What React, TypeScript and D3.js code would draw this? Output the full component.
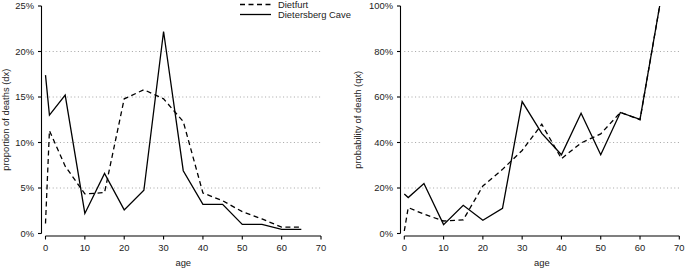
import React from "react";
import * as d3 from "d3";

const ages = [0, 1, 5, 10, 15, 20, 25, 30, 35, 40, 45, 50, 55, 60, 65];
const dietfurtDx = [1.1, 11.3, 7.4, 4.35, 4.5, 14.8, 15.8, 14.8, 12.3, 4.45, 3.6, 2.4, 1.6, 0.7, 0.7];
const dietersbergDx = [17.4, 13.0, 15.2, 2.2, 6.6, 2.6, 4.75, 22.2, 6.9, 3.2, 3.2, 1.0, 1.0, 0.45, 0.45];
const dietfurtQx = [1.1, 11.4, 8.5, 5.5, 6.0, 20.9, 28.2, 36.5, 48.0, 32.9, 39.8, 43.8, 53.2, 50.0, 100];
const dietersbergQx = [17.4, 15.8, 22.0, 3.9, 12.4, 5.8, 11.1, 58.0, 44.0, 34.6, 52.9, 34.6, 53.2, 50.2, 100];

const xTicks = [0, 10, 20, 30, 40, 50, 60, 70];
const dxTicks = [0, 5, 10, 15, 20, 25];
const qxTicks = [0, 20, 40, 60, 80, 100];
const dxGrid = [5, 10, 15, 20];
const qxGrid = [20, 40, 60, 80];
const seriesNames = ["Dietfurt", "Dietersberg Cave"];

const FONT = "'Liberation Sans', Arial, Helvetica, sans-serif";
const FS = 9.4;
const DASH = "5,3.5";
const LW = 1.3;

type PanelProps = {
  x0: number;
  x1: number;
  yAxisX: number;
  yMax: number;
  yTicks: number[];
  grid: number[];
  a: number[];
  b: number[];
  ylabel: string;
  ylabelX: number;
};

function Panel({ x0, x1, yAxisX, yMax, yTicks, grid, a, b, ylabel, ylabelX }: PanelProps) {
  const x = d3.scaleLinear().domain([0, 70]).range([x0, x1]);
  const y = d3.scaleLinear().domain([0, yMax]).range([233.5, 6]);
  const line = d3
    .line<number>()
    .x((_, i) => x(ages[i]))
    .y((v) => y(v));
  const xAxisY = 236;
  return (
    <g>
      {grid.map((g) => (
        <line
          key={"g" + g}
          x1={x(0)}
          x2={x(70)}
          y1={y(g)}
          y2={y(g)}
          stroke="#9a9a9a"
          strokeWidth={0.9}
          strokeDasharray="1,2.6"
        />
      ))}
      <path d={line(a) || ""} fill="none" stroke="#000" strokeWidth={LW} strokeDasharray={DASH} />
      <path d={line(b) || ""} fill="none" stroke="#000" strokeWidth={LW} />
      {/* y axis */}
      <line x1={yAxisX} x2={yAxisX} y1={y(0)} y2={y(yMax)} stroke="#000" strokeWidth={1.1} />
      {yTicks.map((t) => (
        <g key={"y" + t}>
          <line x1={yAxisX - 3.5} x2={yAxisX} y1={y(t)} y2={y(t)} stroke="#000" strokeWidth={1.1} />
          <text
            x={yAxisX - 7.5}
            y={y(t)}
            dy="0.35em"
            textAnchor="end"
            fontSize={FS}
            fontFamily={FONT}
            fill="#222"
          >
            {t + "%"}
          </text>
        </g>
      ))}
      {/* x axis */}
      <line x1={x(0)} x2={x(70)} y1={xAxisY} y2={xAxisY} stroke="#000" strokeWidth={1.1} />
      {xTicks.map((t) => (
        <g key={"x" + t}>
          <line x1={x(t)} x2={x(t)} y1={xAxisY} y2={xAxisY + 3.5} stroke="#000" strokeWidth={1.1} />
          <text
            x={x(t)}
            y={250.5}
            textAnchor="middle"
            fontSize={FS}
            fontFamily={FONT}
            fill="#222"
          >
            {t}
          </text>
        </g>
      ))}
      <text
        x={x(35)}
        y={266}
        textAnchor="middle"
        fontSize={FS}
        fontFamily={FONT}
        fill="#222"
      >
        age
      </text>
      <text
        transform={`translate(${ylabelX},${y(yMax / 2)}) rotate(-90)`}
        textAnchor="middle"
        dy="0.35em"
        fontSize={FS}
        fontFamily={FONT}
        fill="#222"
      >
        {ylabel}
      </text>
    </g>
  );
}

export default function App() {
  return (
    <svg width={685} height={268} style={{ position: "absolute", left: 0, top: 0, background: "#fff" }}>
      <rect width={685} height={268} fill="#fff" />
      <Panel
        x0={45.5}
        x1={321}
        yAxisX={41.5}
        yMax={25}
        yTicks={dxTicks}
        grid={dxGrid}
        a={dietfurtDx}
        b={dietersbergDx}
        ylabel="proportion of deaths (dx)"
        ylabelX={6}
      />
      <Panel
        x0={404.3}
        x1={679.3}
        yAxisX={400.5}
        yMax={100}
        yTicks={qxTicks}
        grid={qxGrid}
        a={dietfurtQx}
        b={dietersbergQx}
        ylabel="probability of death (qx)"
        ylabelX={357.5}
      />
      {/* legend */}
      <line x1={240} x2={271} y1={4.5} y2={4.5} stroke="#000" strokeWidth={LW} strokeDasharray={DASH} />
      <line x1={240} x2={271} y1={14.5} y2={14.5} stroke="#000" strokeWidth={LW} />
      <text x={278} y={4.5} dy="0.35em" fontSize={FS} fontFamily={FONT} fill="#222">
        {seriesNames[0]}
      </text>
      <text x={278} y={14.5} dy="0.35em" fontSize={FS} fontFamily={FONT} fill="#222">
        {seriesNames[1]}
      </text>
    </svg>
  );
}
